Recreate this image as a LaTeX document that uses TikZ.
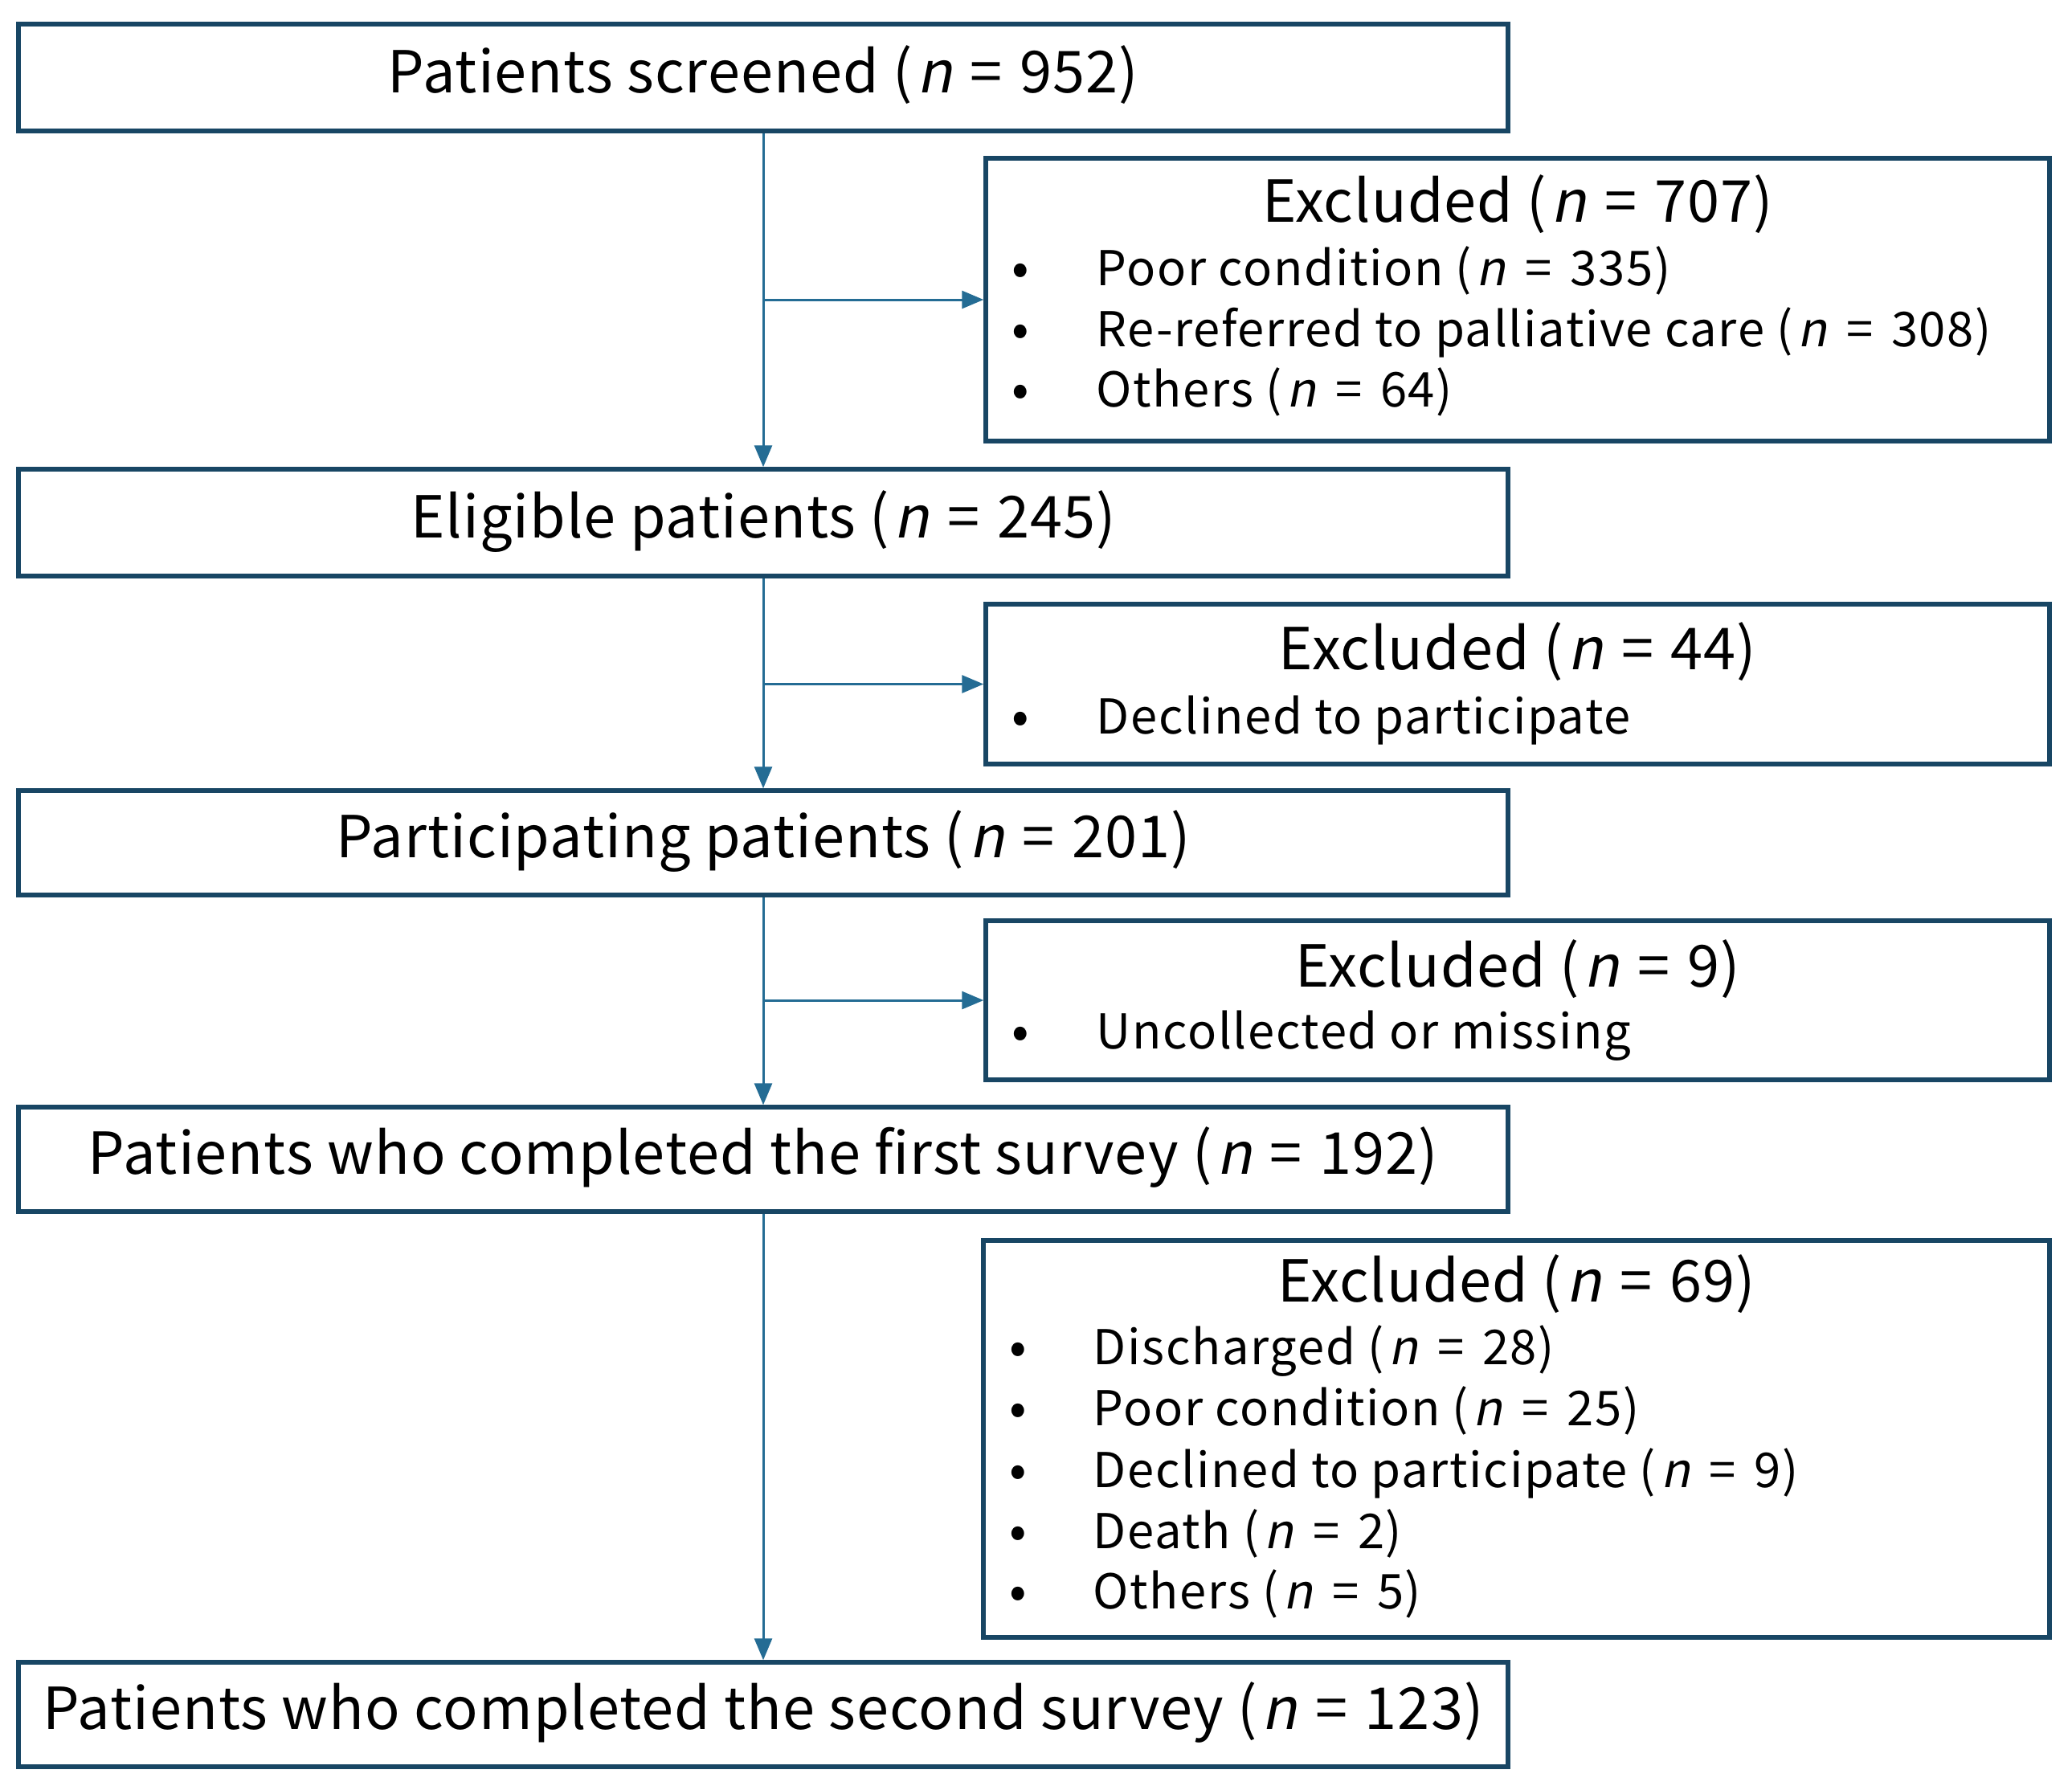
\documentclass[tikz,border=0pt]{standalone}
\usepackage{fontspec}
\setmainfont{Noto Sans CJK JP}[AutoFakeSlant=0.2, LetterSpace=1.5]
\newfontfamily\itemfont{Noto Sans CJK JP}[AutoFakeSlant=0.2, LetterSpace=2.8]
\usetikzlibrary{arrows.meta}
\definecolor{boxc}{RGB}{24,70,100}
\definecolor{arrc}{RGB}{36,108,148}
\newcommand{\nv}[1]{(\kern0.08em\textit{n}\hspace{0.3em}=\hspace{0.3em}#1)}
\newcommand{\nw}[1]{(\kern0.1em\textit{n}\hspace{0.38em}=\hspace{0.38em}#1)}
\begin{document}
\begin{tikzpicture}[
  mainbox/.style={draw=boxc, line width=0.055cm, minimum width=18.54cm, inner sep=0,
    font=\fontsize{20.5}{24}\selectfont, text height=0.60cm, text depth=0.23cm},
  exbox/.style={draw=boxc, line width=0.055cm, minimum width=13.24cm, inner sep=0},
  titletext/.style={font=\fontsize{20.5}{24}\selectfont, inner sep=0, anchor=base},
  itemtext/.style={font=\itemfont\fontsize{17}{21}\selectfont, inner sep=0, anchor=base west},
  bulletmark/.style={font=\itemfont\fontsize{18}{22}\selectfont, inner sep=0, anchor=base},
  conn/.style={draw=arrc, line width=0.03cm, -{Triangle[length=0.27cm,width=0.22cm]}}
]
\useasboundingbox (0,0) rectangle (25.79,-22.22);

% main boxes
\node[mainbox, minimum height=1.33cm] (b1) at (9.50,-0.965) {Patients screened \nv{952}};
\node[mainbox, minimum height=1.33cm] (b2) at (9.50,-6.505) {Eligible patients \nv{245}};
\node[mainbox, minimum height=1.30cm] (b3) at (9.50,-10.49) {Participating patients \nv{201}};
\node[mainbox, minimum height=1.30cm] (b4) at (9.50,-14.43) {Patients who completed the first survey \nv{192}};
\node[mainbox, minimum height=1.30cm] (b5) at (9.50,-21.34) {Patients who completed the second survey \nv{123}};

% exclusion boxes
\node[exbox, minimum height=3.52cm] (e1) at (18.89,-3.73) {};
\node[exbox, minimum height=1.99cm] (e2) at (18.89,-8.515) {};
\node[exbox, minimum height=1.98cm] (e3) at (18.89,-12.45) {};
\node[exbox, minimum height=4.94cm, minimum width=13.27cm] (e4) at (18.875,-17.91) {};

% exclusion box 1
\node[titletext] (e1t) at (18.89,-2.76) {Excluded \nv{707}};
\node[bulletmark] (e1b1) at (12.70,-3.555) {•};
\node[itemtext] (e1i1) at (13.64,-3.555) {Poor condition \nw{335}};
\node[bulletmark] (e1b2) at (12.70,-4.31) {•};
\node[itemtext] (e1i2) at (13.64,-4.31) {Re-referred to palliative care \nw{308}};
\node[bulletmark] (e1b3) at (12.70,-5.06) {•};
\node[itemtext] (e1i3) at (13.64,-5.06) {Others \nw{64}};

% exclusion box 2
\node[titletext] (e2t) at (18.89,-8.33) {Excluded \nv{44}};
\node[bulletmark] (e2b1) at (12.70,-9.13) {•};
\node[itemtext] (e2i1) at (13.64,-9.13) {Declined to participate};

% exclusion box 3
\node[titletext] (e3t) at (18.89,-12.28) {Excluded \nv{9}};
\node[bulletmark] (e3b1) at (12.70,-13.05) {•};
\node[itemtext] (e3i1) at (13.64,-13.05) {Uncollected or missing};

% exclusion box 4
\node[titletext] (e4t) at (18.875,-16.20) {Excluded \nv{69}};
\node[bulletmark] (e4b1) at (12.67,-16.98) {•};
\node[itemtext] (e4i1) at (13.60,-16.98) {Discharged \nw{28}};
\node[bulletmark] (e4b2) at (12.67,-17.74) {•};
\node[itemtext] (e4i2) at (13.60,-17.74) {Poor condition \nw{25}};
\node[bulletmark] (e4b3) at (12.67,-18.51) {•};
\node[itemtext] (e4i3) at (13.60,-18.51) {Declined to participate \nw{9}};
\node[bulletmark] (e4b4) at (12.67,-19.27) {•};
\node[itemtext] (e4i4) at (13.60,-19.27) {Death \nw{2}};
\node[bulletmark] (e4b5) at (12.67,-20.02) {•};
\node[itemtext] (e4i5) at (13.60,-20.02) {Others \nw{5}};

% connectors
\draw[conn] (b1.south) -- (b2.north);
\draw[conn] (b2.south) -- (b3.north);
\draw[conn] (b3.south) -- (b4.north);
\draw[conn] (b4.south) -- (b5.north);
\draw[conn] (b1.south |- e1.west) -- (e1.west);
\draw[conn] (b2.south |- e2.west) -- (e2.west);
\draw[conn] (b3.south |- e3.west) -- (e3.west);
\end{tikzpicture}
\end{document}
